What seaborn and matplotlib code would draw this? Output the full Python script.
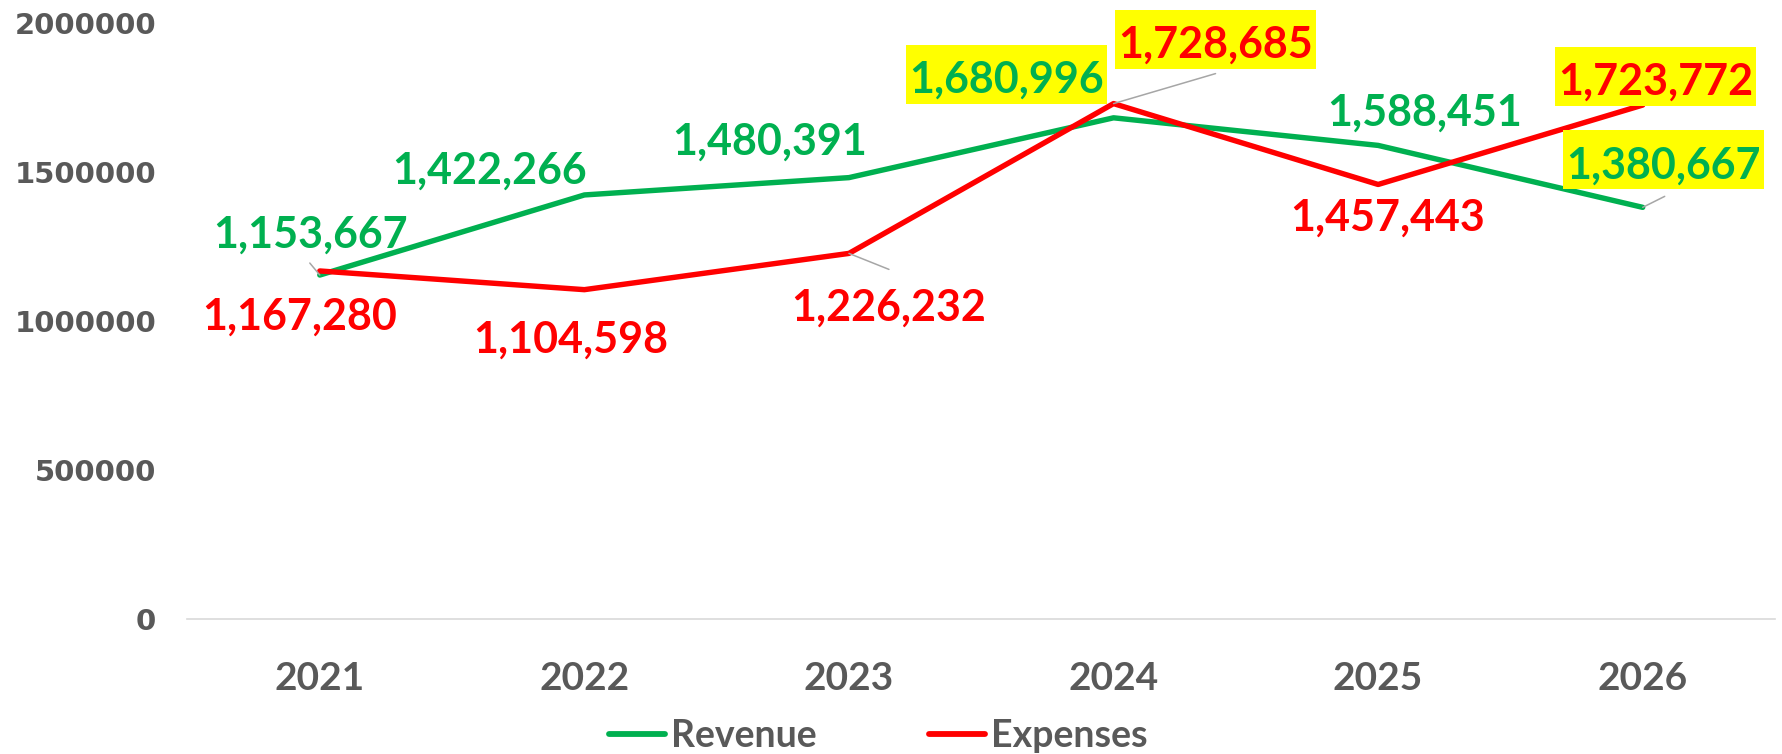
import matplotlib
matplotlib.use("Agg")
import matplotlib.pyplot as plt
import matplotlib.transforms as mtransforms
from matplotlib.patches import Rectangle
import numpy as np
import pandas as pd
import seaborn as sns

# ---- data ----
years = ["2021", "2022", "2023", "2024", "2025", "2026"]
revenue = [1153667, 1422266, 1480391, 1680996, 1588451, 1380667]
expenses = [1167280, 1104598, 1226232, 1728685, 1457443, 1723772]
series_names = ["Revenue", "Expenses"]
series_colors = ["#00B050", "#FF0000"]
y_ticks = [0, 500000, 1000000, 1500000, 2000000]

# label placement (pixel offsets from the point: dx, dy-up) and highlight flags
rev_offsets = [(-9, 27), (-95, 11), (-79, 23), (-107, 25), (47, 20), (21, 29)]
exp_offsets = [(-20, -59), (-14, -63), (40, -67), (102, 46), (9, -46), (13, 10)]
rev_highlight = [False, False, False, True, False, True]
exp_highlight = [False, False, False, True, False, True]
# leader lines: (series index, point index, dx, dy-up) in pixels
leaders = [(0, 0, -10, 12), (1, 2, 40, -16), (1, 3, 102, 30), (0, 5, 22, 11)]

df = pd.DataFrame({
    "Year": years * 2,
    "Value": revenue + expenses,
    "Series": [series_names[0]] * len(years) + [series_names[1]] * len(years),
})

sns.set_theme(style="white")
plt.rcParams["font.family"] = ["Lato", "DejaVu Sans"]

DPI = 100
fig = plt.figure(figsize=(17.82, 7.54), dpi=DPI)
ax = fig.add_axes([187.5 / 1782, 1 - 619 / 754, (1775 - 187.5) / 1782, (619 - 22.7) / 754])

sns.lineplot(data=df, x="Year", y="Value", hue="Series", palette=series_colors,
             linewidth=3.9, legend=False, sort=False, ax=ax)

ax.set_xlim(-0.5, len(years) - 0.5)
ax.set_ylim(0, 2000000)
ax.set_xlabel("")
ax.set_ylabel("")

for s in ["top", "right", "left"]:
    ax.spines[s].set_visible(False)
ax.spines["bottom"].set_color("#D9D9D9")
ax.spines["bottom"].set_linewidth(1.2)

ax.set_yticks(y_ticks)
ax.set_yticklabels([str(v) for v in y_ticks], fontsize=21, fontweight="bold",
                   color="#595959", family="DejaVu Sans")
ax.set_xticks(range(len(years)))
ax.set_xticklabels(years, fontsize=28, fontweight="bold", color="#595959")
ax.tick_params(axis="y", length=0, pad=22.5)
ax.tick_params(axis="x", length=0, pad=30)
ax.grid(False)

PX = 72.0 / DPI
all_vals = [revenue, expenses]
all_offsets = [rev_offsets, exp_offsets]
all_hl = [rev_highlight, exp_highlight]

texts = []
for si in range(2):
    for i, v in enumerate(all_vals[si]):
        dx, dy = all_offsets[si][i]
        t = ax.annotate(f"{v:,}", xy=(i, v), xytext=(dx * PX, dy * PX),
                        textcoords="offset points", ha="center", va="baseline",
                        fontsize=31, fontweight="bold", color=series_colors[si],
                        zorder=4)
        texts.append((t, si, i, v, dx, dy, all_hl[si][i]))

for si, i, dx, dy in leaders:
    v = all_vals[si][i]
    ax.annotate("", xy=(i, v), xytext=(dx * PX, dy * PX), textcoords="offset points",
                arrowprops=dict(arrowstyle="-", color="#A6A6A6", lw=1.1,
                                shrinkA=0, shrinkB=0), zorder=3)

fig.canvas.draw()
renderer = fig.canvas.get_renderer()
for t, si, i, v, dx, dy, hl in texts:
    if not hl:
        continue
    bb = t.get_window_extent(renderer)
    px, py = ax.transData.transform((i, v))
    base = py + dy
    rect = Rectangle((bb.x0 - 3, base - 11), bb.width + 6, 59,
                     transform=mtransforms.IdentityTransform(),
                     facecolor="#FFFF00", edgecolor="none", zorder=2.5, clip_on=False)
    ax.add_patch(rect)

handles = [plt.Line2D([], [], color=c, lw=4.2, solid_capstyle="round") for c in series_colors]
leg = fig.legend(handles, series_names, loc="center", bbox_to_anchor=(878 / 1782, 1 - 736 / 754),
                 ncol=2, frameon=False, fontsize=27, handlelength=1.5, handletextpad=0.15,
                 columnspacing=3.0, borderpad=0)
for txt in leg.get_texts():
    txt.set_color("#595959")
    txt.set_fontweight("bold")

fig.savefig("out.png", dpi=DPI, facecolor="white")
